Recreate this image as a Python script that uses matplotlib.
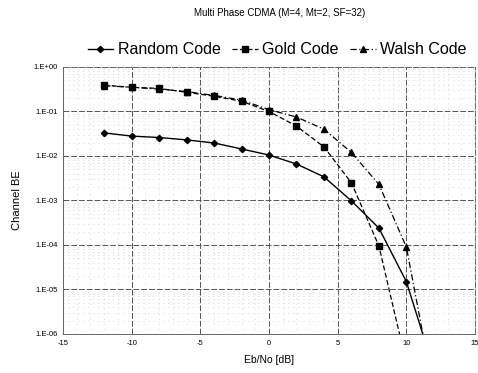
import numpy as np
import matplotlib
matplotlib.use("Agg")
import matplotlib.pyplot as plt
from matplotlib.ticker import FixedLocator, LogLocator, NullFormatter

plt.rcParams["font.family"] = ["Liberation Sans", "DejaVu Sans"]

# Eb/No [dB]
snr = [-12, -10, -8, -6, -4, -2, 0, 2, 4, 6, 8, 10, 12]
random_ber = [0.033, 0.028, 0.026, 0.023, 0.0196, 0.0144, 0.0105, 0.0066,
              0.0034, 0.00098, 2.4e-4, 1.5e-5, 1.6e-7]

snr_gold = [-12, -10, -8, -6, -4, -2, 0, 2, 4, 6, 8, 10]
gold_ber = [0.39, 0.35, 0.33, 0.27, 0.22, 0.17, 0.10, 0.047, 0.016,
            2.5e-3, 9.5e-5, 2.2e-7]

walsh_ber = [0.38, 0.35, 0.32, 0.28, 0.23, 0.18, 0.11, 0.075, 0.040,
             0.012, 2.3e-3, 9e-5, 5e-8]

ytick_vals = [1e0, 1e-1, 1e-2, 1e-3, 1e-4, 1e-5, 1e-6]
ytick_labels = ["1.E+00", "1.E-01", "1.E-02", "1.E-03", "1.E-04", "1.E-05", "1.E-06"]
xtick_vals = [-15, -10, -5, 0, 5, 10, 15]

fig = plt.figure(figsize=(4.78, 3.73), dpi=100)
ax = fig.add_axes([0.1318, 0.1046, 0.862, 0.7158])

ax.plot(snr, random_ber, color="black", linestyle="-", linewidth=1.0,
        marker="D", markersize=3.2, label="Random Code")
ax.plot(snr_gold, gold_ber, color="black", linestyle=(0, (4, 2)), linewidth=0.9,
        marker="s", markersize=4.5, label="Gold Code")
ax.plot(snr, walsh_ber, color="black", linestyle=(0, (5, 2, 1, 2)), linewidth=0.9,
        marker="^", markersize=4.5, label="Walsh Code")

ax.set_yscale("log")
ax.set_ylim(1e-6, 1)
ax.set_xlim(-15, 15)
ax.set_yticks(ytick_vals)
ax.set_yticklabels(ytick_labels)
ax.yaxis.set_minor_locator(LogLocator(base=10, subs=np.arange(2, 10)))
ax.yaxis.set_minor_formatter(NullFormatter())
ax.set_xticks(xtick_vals)
ax.set_xticklabels([str(v) for v in xtick_vals])
ax.xaxis.set_minor_locator(FixedLocator(np.arange(-15, 15.1, 1)))

ax.tick_params(axis="both", which="both", length=0, labelsize=5.5, pad=4)
ax.grid(True, which="major", color="#555555", linestyle=(0, (6, 2)), linewidth=0.7)
ax.grid(True, which="minor", color="#c8c8c8", linestyle=(0, (1, 5)), linewidth=0.6)
for s in ax.spines.values():
    s.set_color("#666666")
    s.set_linewidth(0.7)
ax.spines["top"].set_linestyle((0, (6, 2)))
ax.spines["right"].set_linestyle((0, (6, 2)))

ax.set_xlabel("Eb/No [dB]", fontsize=7.5, labelpad=6)
ax.set_ylabel("Channel BE", fontsize=8, labelpad=8)

fig.text(0.585, 0.965, "Multi Phase CDMA (M=4, Mt=2, SF=32)", fontsize=7,
         ha="center", va="center")

ax.legend(loc="center", bbox_to_anchor=(0.52, 1.064), ncol=3, frameon=False,
          fontsize=11.5, handlelength=1.6, handletextpad=0.3, columnspacing=0.7,
          borderaxespad=0)

fig.savefig("out.png", dpi=100)
